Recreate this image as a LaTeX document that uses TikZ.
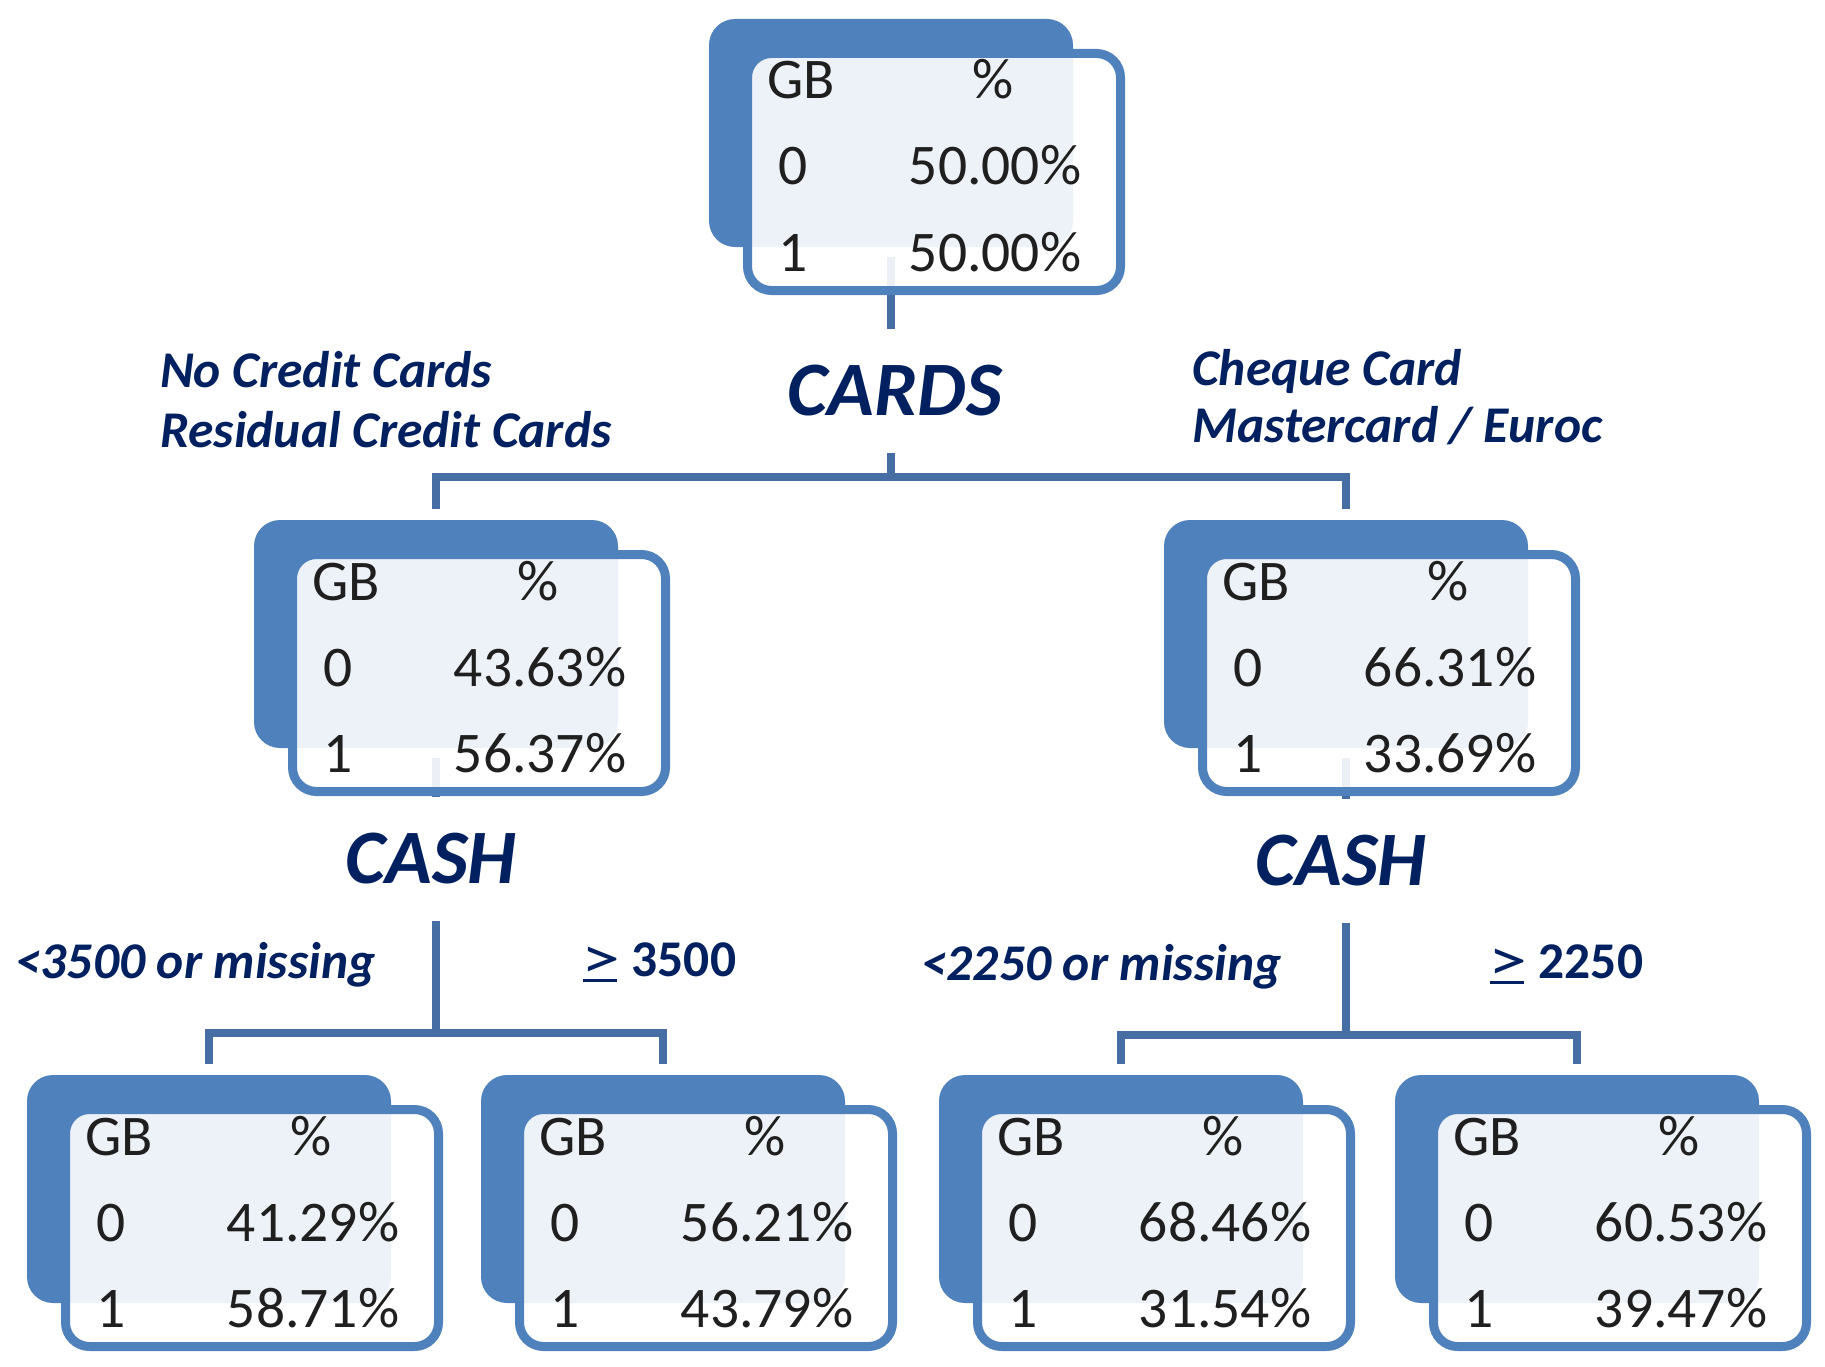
\documentclass[tikz,border=0pt]{standalone}
\usepackage{fontspec}
\usepackage{graphicx}
\setmainfont{Carlito}
\definecolor{boxblue}{RGB}{79,129,189}
\definecolor{linkblue}{RGB}{70,110,165}
\definecolor{navy}{RGB}{0,32,96}
\pgfdeclarelayer{bg}
\pgfsetlayers{bg,main}
\newcommand\treebox[5]{%
  \node[backbox] (#1b) at (#2,#3) {};
  \node[frontbox] (#1) at ({#2+38.5},{#3+34.5}) {};
  \node[celltext, anchor=base west] (#1gb) at ({#2+58},{#3+80}) {GB};
  \node[celltext, anchor=base] (#1pc) at ({#2+284},{#3+80}) {\%};
  \node[celltext, anchor=base] (#1z) at ({#2+84},{#3+166}) {0};
  \node[celltext, anchor=base] (#1zp) at ({#2+286},{#3+166}) {#4\%};
  \node[celltext, anchor=base] (#1o) at ({#2+84},{#3+252}) {1};
  \node[celltext, anchor=base] (#1op) at ({#2+286},{#3+252}) {#5\%};
  \coordinate (#1top) at ({#2+182},{#3-11});
  \coordinate (#1bot) at ({#2+182},{#3+238});
}
\newcommand\geqsym{\mbox{\normalfont\fontsize{60}{62}\selectfont
  \makebox[0pt][l]{\hspace{2pt}\raisebox{-6pt}{\rule{34pt}{3.5pt}}}\raisebox{-2pt}{\scalebox{1.3}[1.0]{>}}}}
\begin{document}
\begin{tikzpicture}[x=1pt,y=-1pt,
  backbox/.style={fill=boxblue, draw=none, rounded corners=26pt, minimum width=364pt,
    minimum height=228pt, inner sep=0pt, outer sep=0pt, anchor=north west},
  frontbox/.style={fill=white, fill opacity=0.9, draw=boxblue, draw opacity=1, line width=9pt,
    rounded corners=24pt, minimum width=373pt, minimum height=237pt, inner sep=0pt,
    outer sep=0pt, anchor=north west},
  celltext/.style={inner sep=0pt, text=black!88, font=\fontsize{57.5}{60}\selectfont},
  branchlbl/.style={inner sep=0pt, anchor=base west, text=navy,
    font=\fontsize{51.5}{54}\selectfont\bfseries\itshape},
  splitlbl/.style={inner sep=0pt, text=navy, minimum height=124pt,
    font=\fontsize{77}{80}\selectfont\bfseries\itshape},
  link/.style={draw=linkblue, line width=8pt, line join=miter}
]
\useasboundingbox (0,0) rectangle (1825,1367);

\treebox{T}{709}{19}{50.00}{50.00}
\treebox{ML}{254}{520}{43.63}{56.37}
\treebox{MR}{1164}{520}{66.31}{33.69}
\treebox{B1}{27}{1075}{41.29}{58.71}
\treebox{B2}{481}{1075}{56.21}{43.79}
\treebox{B3}{939}{1075}{68.46}{31.54}
\treebox{B4}{1395}{1075}{60.53}{39.47}

\node[splitlbl] (cards) at (895,391) {CARDS};
\node[splitlbl] (cashL) at (431,859) {CASH};
\node[splitlbl] (cashR) at (1341,861) {CASH};

\node[branchlbl] (l1) at (160,387) {No Credit Cards};
\node[branchlbl] (l2) at (160,447) {Residual Credit Cards};
\node[branchlbl] (r1) at (1192,385) {Cheque Card};
\node[branchlbl] (r2) at (1192,442) {Mastercard / Euroc};
\node[branchlbl] (l3) at (15,978) {<3500 or missing};
\node[branchlbl] (l4) at (581,976) {\geqsym\ \upshape 3500};
\node[branchlbl] (r3) at (921,980) {<2250 or missing};
\node[branchlbl] (r4) at (1488,978) {\geqsym\ \upshape 2250};

\begin{pgfonlayer}{bg}
  \draw[link] (Tbot) -- (Tbot |- cards.north);
  \draw[link] (Tbot |- cards.south) -- ++(0,24) -| (MLtop);
  \draw[link] (Tbot |- cards.south) -- ++(0,24) -| (MRtop);
  \draw[link] (MLbot) -- (MLbot |- cashL.north);
  \draw[link] (MRbot) -- (MRbot |- cashR.north);
  \draw[link] (MLbot |- cashL.south) -- ++(0,112) -| (B1top);
  \draw[link] (MLbot |- cashL.south) -- ++(0,112) -| (B2top);
  \draw[link] (MRbot |- cashR.south) -- ++(0,112) -| (B3top);
  \draw[link] (MRbot |- cashR.south) -- ++(0,112) -| (B4top);
\end{pgfonlayer}
\end{tikzpicture}
\end{document}
